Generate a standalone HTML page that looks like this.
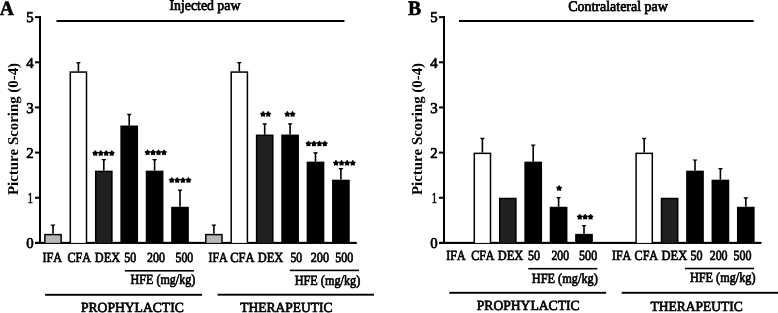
<!DOCTYPE html><html><head><meta charset="utf-8"><style>html,body{margin:0;padding:0;background:#fff;}svg{display:block;}text{font-family:"Liberation Serif",serif;font-kerning:none;fill:#000;text-rendering:geometricPrecision;-webkit-font-smoothing:antialiased;stroke:#000;stroke-width:0.7px;paint-order:stroke;}svg{will-change:transform;}</style></head><body>
<svg width="778" height="313" viewBox="0 0 778 313">
<rect width="778" height="313" fill="#fff"/>
<text x="-0.19" y="15.20" font-size="20.5" font-weight="bold" style="stroke-width:0.6px" textLength="14.24" lengthAdjust="spacingAndGlyphs">A</text>
<text x="408.07" y="15.20" font-size="20.5" font-weight="bold" style="stroke-width:0.6px" textLength="13.07" lengthAdjust="spacingAndGlyphs">B</text>
<text x="169.50" y="10.40" font-size="14.6" textLength="70.86" lengthAdjust="spacingAndGlyphs">Injected paw</text>
<text x="568.13" y="10.50" font-size="14.6" textLength="99.73" lengthAdjust="spacingAndGlyphs">Contralateral paw</text>
<rect x="56.50" y="20.00" width="288.00" height="2.00" fill="#000"/>
<rect x="459.00" y="20.00" width="294.70" height="2.00" fill="#000"/>
<rect x="39.00" y="16.10" width="2.00" height="227.80" fill="#000"/>
<rect x="35.00" y="241.90" width="6.00" height="2.00" fill="#000"/>
<rect x="35.00" y="196.75" width="6.00" height="2.00" fill="#000"/>
<rect x="35.00" y="151.60" width="6.00" height="2.00" fill="#000"/>
<rect x="35.00" y="106.45" width="6.00" height="2.00" fill="#000"/>
<rect x="35.00" y="61.30" width="6.00" height="2.00" fill="#000"/>
<rect x="35.00" y="16.15" width="6.00" height="2.00" fill="#000"/>
<rect x="35.00" y="241.85" width="321.80" height="2.10" fill="#000"/>
<text x="26.23" y="248.19" font-size="15" style="stroke-width:0.7px" textLength="7.44" lengthAdjust="spacingAndGlyphs">0</text>
<text x="27.80" y="203.04" font-size="15" style="stroke-width:0.7px" textLength="5.1" lengthAdjust="spacingAndGlyphs">1</text>
<text x="26.23" y="157.89" font-size="15" style="stroke-width:0.7px" textLength="7.44" lengthAdjust="spacingAndGlyphs">2</text>
<text x="26.23" y="112.74" font-size="15" style="stroke-width:0.7px" textLength="7.44" lengthAdjust="spacingAndGlyphs">3</text>
<text x="26.23" y="67.59" font-size="15" style="stroke-width:0.7px" textLength="7.44" lengthAdjust="spacingAndGlyphs">4</text>
<text x="26.23" y="22.44" font-size="15" style="stroke-width:0.7px" textLength="7.44" lengthAdjust="spacingAndGlyphs">5</text>
<text transform="translate(18.40,194.80) rotate(-90)" x="-0.25" y="0" font-size="15" font-weight="bold" style="stroke-width:0px" textLength="132.11" lengthAdjust="spacingAndGlyphs">Picture Scoring (0-4)</text>
<rect x="52.20" y="224.94" width="1.60" height="8.93" fill="#000"/>
<polygon points="50.55,224.44 55.45,224.44 54.60,225.64 53.80,226.24 52.20,226.24 51.40,225.64" fill="#000"/>
<rect x="44.15" y="233.87" width="17.70" height="9.03" fill="#000"/>
<rect x="45.65" y="235.37" width="14.70" height="7.53" fill="#b6b6b6"/>
<rect x="77.60" y="62.40" width="1.60" height="8.93" fill="#000"/>
<polygon points="75.95,61.90 80.85,61.90 80.00,63.10 79.20,63.70 77.60,63.70 76.80,63.10" fill="#000"/>
<rect x="69.55" y="71.33" width="17.70" height="171.57" fill="#000"/>
<rect x="71.05" y="72.83" width="14.70" height="170.07" fill="#fff"/>
<rect x="103.00" y="159.47" width="1.60" height="11.19" fill="#000"/>
<polygon points="101.35,158.97 106.25,158.97 105.40,160.17 104.60,160.77 103.00,160.77 102.20,160.17" fill="#000"/>
<rect x="94.95" y="170.66" width="17.70" height="72.24" fill="#000"/>
<rect x="96.45" y="172.16" width="14.70" height="70.74" fill="#202020"/>
<rect x="128.40" y="114.32" width="1.60" height="11.19" fill="#000"/>
<polygon points="126.75,113.82 131.65,113.82 130.80,115.02 130.00,115.62 128.40,115.62 127.60,115.02" fill="#000"/>
<rect x="120.35" y="125.51" width="17.70" height="117.39" fill="#000"/>
<rect x="153.80" y="159.47" width="1.60" height="11.19" fill="#000"/>
<polygon points="152.15,158.97 157.05,158.97 156.20,160.17 155.40,160.77 153.80,160.77 153.00,160.17" fill="#000"/>
<rect x="145.75" y="170.66" width="17.70" height="72.24" fill="#000"/>
<rect x="179.20" y="189.95" width="1.60" height="16.83" fill="#000"/>
<polygon points="177.55,189.45 182.45,189.45 181.60,190.65 180.80,191.25 179.20,191.25 178.40,190.65" fill="#000"/>
<rect x="171.15" y="206.78" width="17.70" height="36.12" fill="#000"/>
<rect x="213.10" y="224.94" width="1.60" height="8.93" fill="#000"/>
<polygon points="211.45,224.44 216.35,224.44 215.50,225.64 214.70,226.24 213.10,226.24 212.30,225.64" fill="#000"/>
<rect x="205.05" y="233.87" width="17.70" height="9.03" fill="#000"/>
<rect x="206.55" y="235.37" width="14.70" height="7.53" fill="#b6b6b6"/>
<rect x="238.50" y="62.40" width="1.60" height="8.93" fill="#000"/>
<polygon points="236.85,61.90 241.75,61.90 240.90,63.10 240.10,63.70 238.50,63.70 237.70,63.10" fill="#000"/>
<rect x="230.45" y="71.33" width="17.70" height="171.57" fill="#000"/>
<rect x="231.95" y="72.83" width="14.70" height="170.07" fill="#fff"/>
<rect x="263.90" y="123.80" width="1.60" height="10.74" fill="#000"/>
<polygon points="262.25,123.30 267.15,123.30 266.30,124.50 265.50,125.10 263.90,125.10 263.10,124.50" fill="#000"/>
<rect x="255.85" y="134.54" width="17.70" height="108.36" fill="#000"/>
<rect x="257.35" y="136.04" width="14.70" height="106.86" fill="#202020"/>
<rect x="289.30" y="123.80" width="1.60" height="10.74" fill="#000"/>
<polygon points="287.65,123.30 292.55,123.30 291.70,124.50 290.90,125.10 289.30,125.10 288.50,124.50" fill="#000"/>
<rect x="281.25" y="134.54" width="17.70" height="108.36" fill="#000"/>
<rect x="314.70" y="152.70" width="1.60" height="8.93" fill="#000"/>
<polygon points="313.05,152.20 317.95,152.20 317.10,153.40 316.30,154.00 314.70,154.00 313.90,153.40" fill="#000"/>
<rect x="306.65" y="161.63" width="17.70" height="81.27" fill="#000"/>
<rect x="340.10" y="168.50" width="1.60" height="11.19" fill="#000"/>
<polygon points="338.45,168.00 343.35,168.00 342.50,169.20 341.70,169.80 340.10,169.80 339.30,169.20" fill="#000"/>
<rect x="332.05" y="179.69" width="17.70" height="63.21" fill="#000"/>
<polygon points="95.25,150.72 96.09,152.12 97.68,152.49 96.61,153.72 96.75,155.34 95.25,154.70 93.75,155.34 93.89,153.72 92.82,152.49 94.41,152.12" fill="#000" stroke="#000" stroke-width="1.05" stroke-linejoin="round"/>
<polygon points="100.75,150.72 101.59,152.12 103.18,152.49 102.11,153.72 102.25,155.34 100.75,154.70 99.25,155.34 99.39,153.72 98.32,152.49 99.91,152.12" fill="#000" stroke="#000" stroke-width="1.05" stroke-linejoin="round"/>
<polygon points="106.25,150.72 107.09,152.12 108.68,152.49 107.61,153.72 107.75,155.34 106.25,154.70 104.75,155.34 104.89,153.72 103.82,152.49 105.41,152.12" fill="#000" stroke="#000" stroke-width="1.05" stroke-linejoin="round"/>
<polygon points="111.75,150.72 112.59,152.12 114.18,152.49 113.11,153.72 113.25,155.34 111.75,154.70 110.25,155.34 110.39,153.72 109.32,152.49 110.91,152.12" fill="#000" stroke="#000" stroke-width="1.05" stroke-linejoin="round"/>
<polygon points="147.55,150.03 148.39,151.42 149.98,151.79 148.91,153.02 149.05,154.64 147.55,154.00 146.05,154.64 146.19,153.02 145.12,151.79 146.71,151.42" fill="#000" stroke="#000" stroke-width="1.05" stroke-linejoin="round"/>
<polygon points="153.02,150.03 153.86,151.42 155.44,151.79 154.37,153.02 154.52,154.64 153.02,154.00 151.52,154.64 151.66,153.02 150.59,151.79 152.18,151.42" fill="#000" stroke="#000" stroke-width="1.05" stroke-linejoin="round"/>
<polygon points="158.48,150.03 159.32,151.42 160.91,151.79 159.84,153.02 159.98,154.64 158.48,154.00 156.98,154.64 157.13,153.02 156.06,151.79 157.64,151.42" fill="#000" stroke="#000" stroke-width="1.05" stroke-linejoin="round"/>
<polygon points="163.95,150.03 164.79,151.42 166.38,151.79 165.31,153.02 165.45,154.64 163.95,154.00 162.45,154.64 162.59,153.02 161.52,151.79 163.11,151.42" fill="#000" stroke="#000" stroke-width="1.05" stroke-linejoin="round"/>
<polygon points="171.75,177.72 172.59,179.12 174.18,179.49 173.11,180.72 173.25,182.34 171.75,181.70 170.25,182.34 170.39,180.72 169.32,179.49 170.91,179.12" fill="#000" stroke="#000" stroke-width="1.05" stroke-linejoin="round"/>
<polygon points="177.32,177.72 178.16,179.12 179.74,179.49 178.67,180.72 178.82,182.34 177.32,181.70 175.82,182.34 175.96,180.72 174.89,179.49 176.48,179.12" fill="#000" stroke="#000" stroke-width="1.05" stroke-linejoin="round"/>
<polygon points="182.88,177.72 183.72,179.12 185.31,179.49 184.24,180.72 184.38,182.34 182.88,181.70 181.38,182.34 181.53,180.72 180.46,179.49 182.04,179.12" fill="#000" stroke="#000" stroke-width="1.05" stroke-linejoin="round"/>
<polygon points="188.45,177.72 189.29,179.12 190.88,179.49 189.81,180.72 189.95,182.34 188.45,181.70 186.95,182.34 187.09,180.72 186.02,179.49 187.61,179.12" fill="#000" stroke="#000" stroke-width="1.05" stroke-linejoin="round"/>
<polygon points="263.05,111.62 263.89,113.02 265.48,113.39 264.41,114.62 264.55,116.24 263.05,115.60 261.55,116.24 261.69,114.62 260.62,113.39 262.21,113.02" fill="#000" stroke="#000" stroke-width="1.05" stroke-linejoin="round"/>
<polygon points="268.25,111.62 269.09,113.02 270.68,113.39 269.61,114.62 269.75,116.24 268.25,115.60 266.75,116.24 266.89,114.62 265.82,113.39 267.41,113.02" fill="#000" stroke="#000" stroke-width="1.05" stroke-linejoin="round"/>
<polygon points="287.35,111.62 288.19,113.02 289.78,113.39 288.71,114.62 288.85,116.24 287.35,115.60 285.85,116.24 285.99,114.62 284.92,113.39 286.51,113.02" fill="#000" stroke="#000" stroke-width="1.05" stroke-linejoin="round"/>
<polygon points="292.55,111.62 293.39,113.02 294.98,113.39 293.91,114.62 294.05,116.24 292.55,115.60 291.05,116.24 291.19,114.62 290.12,113.39 291.71,113.02" fill="#000" stroke="#000" stroke-width="1.05" stroke-linejoin="round"/>
<polygon points="308.45,141.22 309.29,142.62 310.88,142.99 309.81,144.22 309.95,145.84 308.45,145.20 306.95,145.84 307.09,144.22 306.02,142.99 307.61,142.62" fill="#000" stroke="#000" stroke-width="1.05" stroke-linejoin="round"/>
<polygon points="313.92,141.22 314.76,142.62 316.34,142.99 315.27,144.22 315.42,145.84 313.92,145.20 312.42,145.84 312.56,144.22 311.49,142.99 313.08,142.62" fill="#000" stroke="#000" stroke-width="1.05" stroke-linejoin="round"/>
<polygon points="319.38,141.22 320.22,142.62 321.81,142.99 320.74,144.22 320.88,145.84 319.38,145.20 317.88,145.84 318.03,144.22 316.96,142.99 318.54,142.62" fill="#000" stroke="#000" stroke-width="1.05" stroke-linejoin="round"/>
<polygon points="324.85,141.22 325.69,142.62 327.28,142.99 326.21,144.22 326.35,145.84 324.85,145.20 323.35,145.84 323.49,144.22 322.42,142.99 324.01,142.62" fill="#000" stroke="#000" stroke-width="1.05" stroke-linejoin="round"/>
<polygon points="335.95,160.53 336.79,161.92 338.38,162.29 337.31,163.52 337.45,165.14 335.95,164.50 334.45,165.14 334.59,163.52 333.52,162.29 335.11,161.92" fill="#000" stroke="#000" stroke-width="1.05" stroke-linejoin="round"/>
<polygon points="341.55,160.53 342.39,161.92 343.98,162.29 342.91,163.52 343.05,165.14 341.55,164.50 340.05,165.14 340.19,163.52 339.12,162.29 340.71,161.92" fill="#000" stroke="#000" stroke-width="1.05" stroke-linejoin="round"/>
<polygon points="347.15,160.53 347.99,161.92 349.58,162.29 348.51,163.52 348.65,165.14 347.15,164.50 345.65,165.14 345.79,163.52 344.72,162.29 346.31,161.92" fill="#000" stroke="#000" stroke-width="1.05" stroke-linejoin="round"/>
<polygon points="352.75,160.53 353.59,161.92 355.18,162.29 354.11,163.52 354.25,165.14 352.75,164.50 351.25,165.14 351.39,163.52 350.32,162.29 351.91,161.92" fill="#000" stroke="#000" stroke-width="1.05" stroke-linejoin="round"/>
<text x="42.46" y="261.60" font-size="14" textLength="19.63" lengthAdjust="spacingAndGlyphs">IFA</text>
<text x="67.50" y="261.60" font-size="14" textLength="23.48" lengthAdjust="spacingAndGlyphs">CFA</text>
<text x="94.75" y="261.60" font-size="14" textLength="25.28" lengthAdjust="spacingAndGlyphs">DEX</text>
<text x="124.31" y="261.60" font-size="14" textLength="11.95" lengthAdjust="spacingAndGlyphs">50</text>
<text x="147.08" y="261.60" font-size="14" textLength="17.88" lengthAdjust="spacingAndGlyphs">200</text>
<text x="175.51" y="261.60" font-size="14" textLength="17.74" lengthAdjust="spacingAndGlyphs">500</text>
<text x="208.57" y="261.60" font-size="14" textLength="19.12" lengthAdjust="spacingAndGlyphs">IFA</text>
<text x="230.29" y="261.60" font-size="14" textLength="24.30" lengthAdjust="spacingAndGlyphs">CFA</text>
<text x="257.74" y="261.60" font-size="14" textLength="25.48" lengthAdjust="spacingAndGlyphs">DEX</text>
<text x="290.42" y="261.60" font-size="14" textLength="11.73" lengthAdjust="spacingAndGlyphs">50</text>
<text x="310.77" y="261.60" font-size="14" textLength="18.20" lengthAdjust="spacingAndGlyphs">200</text>
<text x="335.20" y="261.60" font-size="14" textLength="18.06" lengthAdjust="spacingAndGlyphs">500</text>
<rect x="124.90" y="270.00" width="69.00" height="1.60" fill="#000"/>
<text x="130.55" y="284.40" font-size="14" textLength="64.78" lengthAdjust="spacingAndGlyphs">HFE (mg/kg)</text>
<rect x="289.80" y="269.60" width="69.20" height="1.60" fill="#000"/>
<text x="294.65" y="284.50" font-size="14" textLength="65.69" lengthAdjust="spacingAndGlyphs">HFE (mg/kg)</text>
<rect x="45.10" y="293.85" width="157.00" height="1.90" fill="#000"/>
<text x="80.91" y="312.10" font-size="14" textLength="102.84" lengthAdjust="spacingAndGlyphs">PROPHYLACTIC</text>
<rect x="217.60" y="293.75" width="156.40" height="1.90" fill="#000"/>
<text x="240.26" y="312.40" font-size="14" textLength="92.29" lengthAdjust="spacingAndGlyphs">THERAPEUTIC</text>
<rect x="443.00" y="16.10" width="2.00" height="227.80" fill="#000"/>
<rect x="439.00" y="241.90" width="6.00" height="2.00" fill="#000"/>
<rect x="439.00" y="196.75" width="6.00" height="2.00" fill="#000"/>
<rect x="439.00" y="151.60" width="6.00" height="2.00" fill="#000"/>
<rect x="439.00" y="106.45" width="6.00" height="2.00" fill="#000"/>
<rect x="439.00" y="61.30" width="6.00" height="2.00" fill="#000"/>
<rect x="439.00" y="16.15" width="6.00" height="2.00" fill="#000"/>
<rect x="439.00" y="241.85" width="322.52" height="2.10" fill="#000"/>
<text x="430.23" y="248.19" font-size="15" style="stroke-width:0.7px" textLength="7.44" lengthAdjust="spacingAndGlyphs">0</text>
<text x="431.80" y="203.04" font-size="15" style="stroke-width:0.7px" textLength="5.1" lengthAdjust="spacingAndGlyphs">1</text>
<text x="430.23" y="157.89" font-size="15" style="stroke-width:0.7px" textLength="7.44" lengthAdjust="spacingAndGlyphs">2</text>
<text x="430.23" y="112.74" font-size="15" style="stroke-width:0.7px" textLength="7.44" lengthAdjust="spacingAndGlyphs">3</text>
<text x="430.23" y="67.59" font-size="15" style="stroke-width:0.7px" textLength="7.44" lengthAdjust="spacingAndGlyphs">4</text>
<text x="430.23" y="22.44" font-size="15" style="stroke-width:0.7px" textLength="7.44" lengthAdjust="spacingAndGlyphs">5</text>
<text transform="translate(422.40,194.80) rotate(-90)" x="-0.25" y="0" font-size="15" font-weight="bold" style="stroke-width:0px" textLength="132.11" lengthAdjust="spacingAndGlyphs">Picture Scoring (0-4)</text>
<rect x="481.60" y="138.25" width="1.60" height="14.35" fill="#000"/>
<polygon points="479.95,137.75 484.85,137.75 484.00,138.95 483.20,139.55 481.60,139.55 480.80,138.95" fill="#000"/>
<rect x="473.55" y="152.60" width="17.70" height="90.30" fill="#000"/>
<rect x="475.05" y="154.10" width="14.70" height="88.80" fill="#fff"/>
<rect x="498.95" y="197.75" width="17.70" height="45.15" fill="#000"/>
<rect x="500.45" y="199.25" width="14.70" height="43.65" fill="#202020"/>
<rect x="532.40" y="145.02" width="1.60" height="16.61" fill="#000"/>
<polygon points="530.75,144.52 535.65,144.52 534.80,145.72 534.00,146.32 532.40,146.32 531.60,145.72" fill="#000"/>
<rect x="524.35" y="161.63" width="17.70" height="81.27" fill="#000"/>
<rect x="557.80" y="197.40" width="1.60" height="9.38" fill="#000"/>
<polygon points="556.15,196.90 561.05,196.90 560.20,198.10 559.40,198.70 557.80,198.70 557.00,198.10" fill="#000"/>
<rect x="549.75" y="206.78" width="17.70" height="36.12" fill="#000"/>
<rect x="583.20" y="225.39" width="1.60" height="8.48" fill="#000"/>
<polygon points="581.55,224.89 586.45,224.89 585.60,226.09 584.80,226.69 583.20,226.69 582.40,226.09" fill="#000"/>
<rect x="575.15" y="233.87" width="17.70" height="9.03" fill="#000"/>
<rect x="643.40" y="138.25" width="1.60" height="14.35" fill="#000"/>
<polygon points="641.75,137.75 646.65,137.75 645.80,138.95 645.00,139.55 643.40,139.55 642.60,138.95" fill="#000"/>
<rect x="635.35" y="152.60" width="17.70" height="90.30" fill="#000"/>
<rect x="636.85" y="154.10" width="14.70" height="88.80" fill="#fff"/>
<rect x="660.75" y="197.75" width="17.70" height="45.15" fill="#000"/>
<rect x="662.25" y="199.25" width="14.70" height="43.65" fill="#202020"/>
<rect x="694.20" y="159.92" width="1.60" height="10.74" fill="#000"/>
<polygon points="692.55,159.42 697.45,159.42 696.60,160.62 695.80,161.22 694.20,161.22 693.40,160.62" fill="#000"/>
<rect x="686.15" y="170.66" width="17.70" height="72.24" fill="#000"/>
<rect x="719.60" y="168.50" width="1.60" height="11.19" fill="#000"/>
<polygon points="717.95,168.00 722.85,168.00 722.00,169.20 721.20,169.80 719.60,169.80 718.80,169.20" fill="#000"/>
<rect x="711.55" y="179.69" width="17.70" height="63.21" fill="#000"/>
<rect x="745.00" y="197.85" width="1.60" height="8.93" fill="#000"/>
<polygon points="743.35,197.35 748.25,197.35 747.40,198.55 746.60,199.15 745.00,199.15 744.20,198.55" fill="#000"/>
<rect x="736.95" y="206.78" width="17.70" height="36.12" fill="#000"/>
<polygon points="559.15,185.72 559.99,187.12 561.58,187.49 560.51,188.72 560.65,190.34 559.15,189.70 557.65,190.34 557.79,188.72 556.72,187.49 558.31,187.12" fill="#000" stroke="#000" stroke-width="1.05" stroke-linejoin="round"/>
<polygon points="579.75,214.43 580.59,215.82 582.18,216.19 581.11,217.42 581.25,219.04 579.75,218.40 578.25,219.04 578.39,217.42 577.32,216.19 578.91,215.82" fill="#000" stroke="#000" stroke-width="1.05" stroke-linejoin="round"/>
<polygon points="585.15,214.43 585.99,215.82 587.58,216.19 586.51,217.42 586.65,219.04 585.15,218.40 583.65,219.04 583.79,217.42 582.72,216.19 584.31,215.82" fill="#000" stroke="#000" stroke-width="1.05" stroke-linejoin="round"/>
<polygon points="590.55,214.43 591.39,215.82 592.98,216.19 591.91,217.42 592.05,219.04 590.55,218.40 589.05,219.04 589.19,217.42 588.12,216.19 589.71,215.82" fill="#000" stroke="#000" stroke-width="1.05" stroke-linejoin="round"/>
<text x="446.37" y="259.60" font-size="14" textLength="19.12" lengthAdjust="spacingAndGlyphs">IFA</text>
<text x="471.31" y="259.60" font-size="14" textLength="23.18" lengthAdjust="spacingAndGlyphs">CFA</text>
<text x="497.84" y="259.60" font-size="14" textLength="25.48" lengthAdjust="spacingAndGlyphs">DEX</text>
<text x="528.10" y="259.60" font-size="14" textLength="12.06" lengthAdjust="spacingAndGlyphs">50</text>
<text x="551.49" y="259.60" font-size="14" textLength="17.56" lengthAdjust="spacingAndGlyphs">200</text>
<text x="579.10" y="259.60" font-size="14" textLength="18.06" lengthAdjust="spacingAndGlyphs">500</text>
<text x="611.97" y="259.60" font-size="14" textLength="19.22" lengthAdjust="spacingAndGlyphs">IFA</text>
<text x="634.60" y="259.60" font-size="14" textLength="23.48" lengthAdjust="spacingAndGlyphs">CFA</text>
<text x="661.54" y="259.60" font-size="14" textLength="25.69" lengthAdjust="spacingAndGlyphs">DEX</text>
<text x="690.50" y="259.60" font-size="14" textLength="12.06" lengthAdjust="spacingAndGlyphs">50</text>
<text x="709.68" y="259.60" font-size="14" textLength="17.88" lengthAdjust="spacingAndGlyphs">200</text>
<text x="733.60" y="259.60" font-size="14" textLength="17.95" lengthAdjust="spacingAndGlyphs">500</text>
<rect x="528.30" y="267.90" width="69.00" height="1.60" fill="#000"/>
<text x="531.74" y="282.50" font-size="14" textLength="66.10" lengthAdjust="spacingAndGlyphs">HFE (mg/kg)</text>
<rect x="685.00" y="267.70" width="69.00" height="1.60" fill="#000"/>
<text x="689.95" y="282.00" font-size="14" textLength="65.59" lengthAdjust="spacingAndGlyphs">HFE (mg/kg)</text>
<rect x="449.30" y="291.85" width="156.80" height="1.90" fill="#000"/>
<text x="476.81" y="310.40" font-size="14" textLength="102.74" lengthAdjust="spacingAndGlyphs">PROPHYLACTIC</text>
<rect x="621.70" y="291.85" width="156.30" height="1.90" fill="#000"/>
<text x="650.56" y="310.90" font-size="14" textLength="92.09" lengthAdjust="spacingAndGlyphs">THERAPEUTIC</text>
</svg></body></html>
